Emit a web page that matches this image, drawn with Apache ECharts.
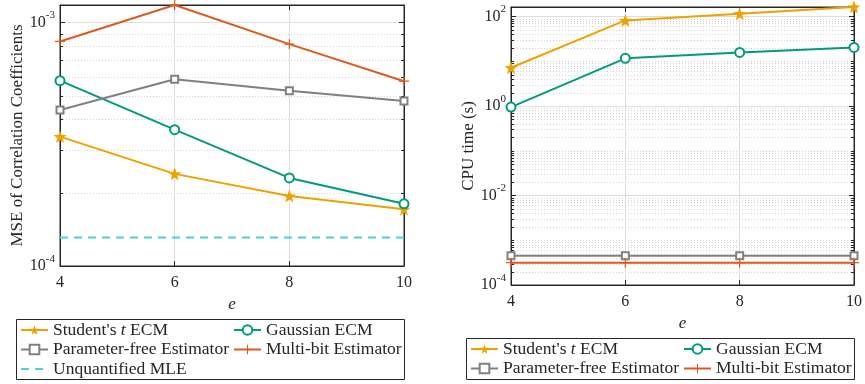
<!DOCTYPE html>
<html>
<head>
<meta charset="utf-8">
<script src="https://cdn.jsdelivr.net/npm/echarts@6/dist/echarts.min.js"></script>
<style>
  html, body { margin: 0; padding: 0; background: #fff; }
  #chart { width: 865px; height: 384px; }
</style>
</head>
<body>
<div id="chart"></div>
<script>
// x values (e)
const eValues = [4, 6, 8, 10]

// left: MSE of correlation coefficients
const mseStudent = [3.40e-4, 2.39e-4, 1.94e-4, 1.71e-4]
const mseGauss = [5.77e-4, 3.63e-4, 2.30e-4, 1.80e-4]
const mseParamFree = [4.37e-4, 5.85e-4, 5.25e-4, 4.76e-4]
const mseMultiBit = [8.36e-4, 1.18e-3, 8.15e-4, 5.74e-4]
const mseMLE = [1.31e-4, 1.31e-4, 1.31e-4, 1.31e-4]

// right: CPU time (s)
const cpuStudent = [7.16, 81.8, 115.5, 163]
const cpuGauss = [0.944, 11.6, 15.7, 20.4]
const cpuParamFree = [4.53e-4, 4.53e-4, 4.53e-4, 4.53e-4]
const cpuMultiBit = [3.16e-4, 3.16e-4, 3.16e-4, 3.16e-4]

// minor log ticks
const mantissas = [2, 3, 4, 5, 6, 7, 8, 9]
const leftDecades = [-4]
const rightDecades = [-4, -3, -2, -1, 0, 1]
const rightOddDecades = [1e-3, 1e-1, 10]

const FONT = 'Liberation Serif'
const INK = '#262626'
const C_STUDENT = '#EDA200'
const C_GAUSS = '#009B7D'
const C_PARAM = '#808080'
const C_MULTI = '#DD5A1E'
const C_MLE = '#4ED2D2'

const STAR = 'path://M0,-10 L2.35,-3.24 L9.51,-3.09 L3.8,1.24 L5.88,8.09 L0,4 L-5.88,8.09 L-3.8,1.24 L-9.51,-3.09 L-2.35,-3.24 Z'
const PLUS = 'path://M-0.6,-5 H0.6 V-0.6 H5 V0.6 H0.6 V5 H-0.6 V0.6 H-5 V-0.6 H-0.6 Z'

function pairs (ys) {
  return eValues.map((x, i) => [x, ys[i]])
}

function minorValues (decades, extra) {
  const out = []
  decades.forEach((d) => mantissas.forEach((m) => out.push([4, m * Math.pow(10, d)])))
  ;(extra || []).forEach((v) => out.push([4, v]))
  return out
}

function powLabel (v) {
  const ex = Math.log10(v)
  const r = Math.round(ex)
  if (Math.abs(ex - r) > 1e-6) return ''
  return '{b|10}{s|' + r + '}'
}

const labelRich = {
  b: { fontFamily: FONT, fontSize: 16, color: INK },
  s: { fontFamily: FONT, fontSize: 11, color: INK, padding: [0, 0, 14, 0] }
}

function minorItem (params, api) {
  const cs = params.coordSys
  const y = Math.round(api.coord([api.value(0), api.value(1)])[1]) + 0.5
  return {
    type: 'group',
    children: [
      { type: 'line', shape: { x1: cs.x, y1: y, x2: cs.x + cs.width, y2: y },
        style: { stroke: '#d4d4d4', lineWidth: 1, lineDash: [1, 2] } },
      { type: 'line', shape: { x1: cs.x, y1: y, x2: cs.x + 3, y2: y },
        style: { stroke: INK, lineWidth: 1 } },
      { type: 'line', shape: { x1: cs.x + cs.width - 3, y1: y, x2: cs.x + cs.width, y2: y },
        style: { stroke: INK, lineWidth: 1 } }
    ]
  }
}

function xAxisPair (grid, nameGap) {
  return [
    {
      gridIndex: grid, type: 'value', min: 4, max: 10, interval: 2,
      name: 'e', nameLocation: 'middle', nameGap: nameGap,
      nameTextStyle: { fontFamily: FONT, fontSize: 17, fontStyle: 'italic', color: INK },
      axisLine: { lineStyle: { color: INK } },
      axisTick: { inside: true, length: 5, lineStyle: { color: INK } },
      axisLabel: { fontFamily: FONT, fontSize: 16, color: INK, margin: 9 },
      splitLine: { show: true, lineStyle: { color: '#dedede' } }
    },
    {
      gridIndex: grid, type: 'value', min: 4, max: 10, interval: 2, position: 'top',
      axisLine: { lineStyle: { color: INK } },
      axisTick: { inside: true, length: 5, lineStyle: { color: INK } },
      axisLabel: { show: false },
      splitLine: { show: false }
    }
  ]
}

function yAxisPair (grid, min, max, interval, name, nameGap) {
  return [
    {
      gridIndex: grid, type: 'log', logBase: 10, min: min, max: max, interval: interval,
      name: name, nameLocation: 'middle', nameGap: nameGap,
      nameTextStyle: { fontFamily: FONT, fontSize: 17, color: INK },
      axisLine: { show: true, lineStyle: { color: INK } },
      axisTick: { inside: true, length: 5, lineStyle: { color: INK } },
      axisLabel: { formatter: powLabel, rich: labelRich, margin: 5 },
      splitLine: { show: true, lineStyle: { color: '#dedede' } }
    },
    {
      gridIndex: grid, type: 'log', logBase: 10, min: min, max: max, interval: interval,
      position: 'right',
      axisLine: { show: true, lineStyle: { color: INK } },
      axisTick: { inside: true, length: 5, lineStyle: { color: INK } },
      axisLabel: { show: false },
      splitLine: { show: false }
    }
  ]
}

function lineSeries (name, xi, yi, data, color, symbol, size, extra) {
  return Object.assign({
    name: name, type: 'line', xAxisIndex: xi, yAxisIndex: yi,
    data: pairs(data), symbol: symbol, symbolSize: size,
    lineStyle: { color: color, width: 2 },
    itemStyle: { color: color },
    z: 5
  }, extra || {})
}

const NAMES = {
  student: "Student's t ECM",
  gauss: 'Gaussian ECM',
  param: 'Parameter-free Estimator',
  multi: 'Multi-bit Estimator',
  mle: 'Unquantified MLE'
}

function seriesFor (xi, yi, d) {
  const list = [
    lineSeries(NAMES.student, xi, yi, d.student, C_STUDENT, STAR, 13),
    lineSeries(NAMES.gauss, xi, yi, d.gauss, C_GAUSS, 'emptyCircle', 9,
      { itemStyle: { color: C_GAUSS, borderWidth: 1.8 } }),
    lineSeries(NAMES.param, xi, yi, d.param, C_PARAM, 'emptyRect', 7,
      { itemStyle: { color: C_PARAM, borderWidth: 1.5 } }),
    lineSeries(NAMES.multi, xi, yi, d.multi, C_MULTI, PLUS, 10)
  ]
  if (d.mle) {
    list.push(lineSeries(NAMES.mle, xi, yi, d.mle, C_MLE, 'none', 0,
      { lineStyle: { color: C_MLE, width: 2, type: [8, 6] } }))
  }
  list.push({
    type: 'custom', xAxisIndex: xi, yAxisIndex: yi, silent: true, z: 1,
    renderItem: minorItem, data: d.minor, animation: false
  })
  return list
}

function legendCol (left, top, names) {
  return {
    orient: 'vertical', left: left, top: top, padding: 0,
    itemWidth: 27, itemHeight: 12, itemGap: 1.5,
    data: names.map((n) => n === NAMES.mle
      ? { name: n, itemStyle: { opacity: 0 } }
      : n),
    formatter: (n) => n === NAMES.student ? "Student's {i|t} ECM" : n,
    textStyle: {
      fontFamily: FONT, fontSize: 17.5, color: INK, lineHeight: 18,
      rich: { i: { fontFamily: FONT, fontSize: 17.5, fontStyle: 'italic', color: INK, lineHeight: 18 } }
    },
    selectedMode: false
  }
}

const chart = echarts.init(document.getElementById('chart'))

chart.setOption({
  animation: false,
  backgroundColor: '#fff',
  grid: [
    { left: 60, right: 461, top: 5, bottom: 118, show: true, borderColor: INK, borderWidth: 1 },
    { left: 511, right: 10, top: 7, bottom: 99, show: true, borderColor: INK, borderWidth: 1 }
  ],
  xAxis: xAxisPair(0, 29).concat(xAxisPair(1, 29)),
  yAxis: yAxisPair(0, 1e-4, 1.18e-3, null, 'MSE of Correlation Coefficients', 34)
    .concat(yAxisPair(1, 1e-4, 163, 2, 'CPU time (s)', 33)),
  graphic: [
    { type: 'rect', shape: { x: 16.5, y: 319.5, width: 388, height: 60 },
      style: { fill: '#fff', stroke: INK, lineWidth: 1 }, z: -1 },
    { type: 'rect', shape: { x: 466.5, y: 338.5, width: 388, height: 41 },
      style: { fill: '#fff', stroke: INK, lineWidth: 1 }, z: -1 }
  ],
  legend: [
    legendCol(20, 321, [NAMES.student, NAMES.param, NAMES.mle]),
    legendCol(233, 321, [NAMES.gauss, NAMES.multi]),
    legendCol(470, 340, [NAMES.student, NAMES.param]),
    legendCol(683, 340, [NAMES.gauss, NAMES.multi])
  ],
  series: seriesFor(0, 0, {
    student: mseStudent, gauss: mseGauss, param: mseParamFree, multi: mseMultiBit,
    mle: mseMLE, minor: minorValues(leftDecades)
  }).concat(seriesFor(2, 2, {
    student: cpuStudent, gauss: cpuGauss, param: cpuParamFree, multi: cpuMultiBit,
    minor: minorValues(rightDecades, rightOddDecades)
  }))
})
</script>
</body>
</html>
